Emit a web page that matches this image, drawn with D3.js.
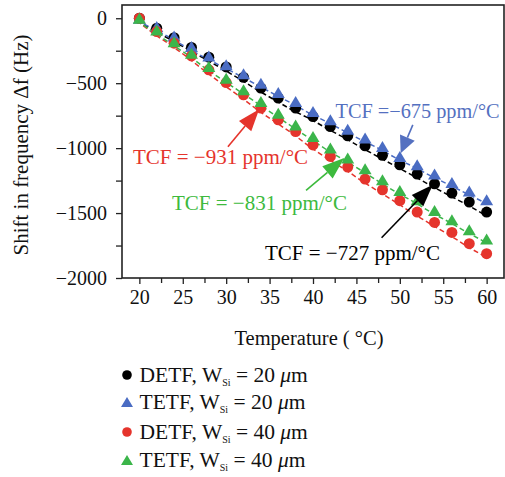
<!DOCTYPE html>
<html>
<head>
<meta charset="utf-8">
<script src="https://cdn.jsdelivr.net/npm/d3@7/dist/d3.min.js"></script>
<style>
  html, body { margin: 0; padding: 0; background: #fff; }
  svg { display: block; font-family: "Liberation Serif", "Times New Roman", serif; }
</style>
</head>
<body>
<svg id="chart" width="505" height="477"></svg>
<script>
// ---------------- data ----------------
const temps = [20,22,24,26,28,30,32,34,36,38,40,42,44,46,48,50,52,54,56,58,60];
const detf20 = [0,-77,-150,-225,-300,-375,-455,-538,-615,-692,-757,-834,-905,-982,-1055,-1128,-1200,-1275,-1346,-1415,-1492];
const tetf20 = [0,-64,-136,-218,-290,-359,-428,-500,-572,-641,-718,-782,-854,-923,-988,-1064,-1128,-1200,-1264,-1331,-1398];
const detf40 = [0,-103,-192,-290,-397,-495,-590,-692,-782,-872,-975,-1064,-1146,-1238,-1321,-1405,-1492,-1572,-1649,-1736,-1813];
const tetf40 = [0,-90,-180,-269,-372,-462,-551,-641,-731,-821,-910,-1000,-1077,-1159,-1244,-1326,-1398,-1480,-1551,-1628,-1700];

const seriesNames = ["DETF", "TETF", "DETF", "TETF"];
const seriesWidths = ["20", "20", "40", "40"];
const seriesShapes = ["circle", "triangle", "circle", "triangle"];
const seriesColors = ["#000000", "#4a6cc3", "#e5342c", "#3bb54a"];
const seriesValues = [detf20, tetf20, detf40, tetf40];

const xTicks = [20,25,30,35,40,45,50,55,60];
const xMinorTicks = [22.5,27.5,32.5,37.5,42.5,47.5,52.5,57.5];
const yTicks = [0,-500,-1000,-1500,-2000];
const yMinorTicks = [-250,-750,-1250,-1750];

// annotations: text, colour, text anchor point [T, Hz], arrow tail [T, Hz], arrow tip [T, Hz]
const annTexts = ["TCF = \u2212931 ppm/\u00b0C", "TCF = \u2212831 ppm/\u00b0C", "TCF = \u2212727 ppm/\u00b0C", "TCF =\u2212675 ppm/\u00b0C"];
const annColors = ["#e5342c", "#3dba3d", "#000000", "#5470c0"];
const annTextPos = [[19.27,-1122],[23.76,-1476],[34.47,-1861],[42.6,-768]];
const annTail = [[30.2,-990],[39.2,-1326],[47.9,-1690],[51.5,-821]];
const annTip = [[33.8,-700],[43.6,-1077],[53.8,-1282],[50.1,-1040]];

// ---------------- layout ----------------
const svg = d3.select("#chart");
const L = 122, T = 5, R = 504, B = 278;
const x = d3.scaleLinear().domain([18, 62]).range([L, R]);
const y = d3.scaleLinear().domain([-2000, 102]).range([B, T]);
const FS = 20;

// axes
const xAxis = d3.axisBottom(x).tickValues(xTicks).tickSize(6).tickPadding(6).tickFormat(d3.format("d"));
const xMinor = d3.axisBottom(x).tickValues(xMinorTicks).tickSize(5).tickFormat("");
const yAxis = d3.axisLeft(y).tickValues(yTicks).tickSize(6).tickPadding(9)
  .tickFormat(d => d < 0 ? "\u2212" + Math.abs(d) : String(d));
const yMinor = d3.axisLeft(y).tickValues(yMinorTicks).tickSize(6).tickFormat("");

function styleAxis(g) {
  g.select(".domain").remove();
  g.selectAll(".tick line").attr("stroke", "#222").attr("stroke-width", 1.3);
  g.selectAll(".tick text").attr("font-family", "Liberation Serif").attr("font-size", FS).attr("fill", "#111");
}
svg.append("g").attr("transform", `translate(0,${B})`).call(xAxis).call(styleAxis);
svg.append("g").attr("transform", `translate(0,${B})`).call(xMinor).call(styleAxis);
svg.append("g").attr("transform", `translate(${L},0)`).call(yAxis).call(styleAxis);
svg.append("g").attr("transform", `translate(${L},0)`).call(yMinor).call(styleAxis);

// frame
svg.append("rect").attr("x", L).attr("y", T).attr("width", R - L).attr("height", B - T)
  .attr("fill", "none").attr("stroke", "#222").attr("stroke-width", 1.6);

// axis titles
svg.append("text").attr("x", 309).attr("y", 345).attr("text-anchor", "middle")
  .attr("font-size", FS + 0.5).attr("fill", "#111").text("Temperature ( \u00b0C)");
svg.append("text").attr("transform", "translate(27.5,145) rotate(-90)").attr("text-anchor", "middle")
  .attr("font-size", FS + 1).attr("fill", "#111").text("Shift in frequency \u0394f (Hz)");

// dashed trend lines (drawn under markers)
const line = d3.line().x((d, i) => x(temps[i])).y(d => y(d));
seriesValues.forEach((vals, k) => {
  svg.append("path").datum(vals).attr("d", line)
    .attr("transform", "translate(-2.5,2.5)")
    .attr("fill", "none").attr("stroke", seriesColors[k]).attr("stroke-width", 1.5)
    .attr("stroke-dasharray", "5,3");
});

// markers
function triPath(w, h) {
  return `M0,${-h/2}L${w/2},${h/2}L${-w/2},${h/2}Z`;
}
seriesValues.forEach((vals, k) => {
  const g = svg.append("g");
  if (seriesShapes[k] === "circle") {
    g.selectAll("circle").data(vals).join("circle")
      .attr("cx", (d, i) => x(temps[i])).attr("cy", d => y(d)).attr("r", 5.5)
      .attr("fill", seriesColors[k]);
  } else {
    g.selectAll("path").data(vals).join("path")
      .attr("d", triPath(13, 11))
      .attr("transform", (d, i) => `translate(${x(temps[i])},${y(d)})`)
      .attr("fill", seriesColors[k]);
  }
});

// annotation arrows
function arrow(p0, p1, color) {
  const x0 = x(p0[0]), y0 = y(p0[1]), x1 = x(p1[0]), y1 = y(p1[1]);
  const dx = x1 - x0, dy = y1 - y0, len = Math.hypot(dx, dy);
  const ux = dx / len, uy = dy / len;
  const hl = Math.min(22, len * 0.55), hw = 8;
  const bx = x1 - ux * hl, by = y1 - uy * hl;
  svg.append("line").attr("x1", x0).attr("y1", y0).attr("x2", bx).attr("y2", by)
    .attr("stroke", color).attr("stroke-width", 1.6);
  svg.append("path")
    .attr("d", `M${x1},${y1}L${bx - uy * hw},${by + ux * hw}L${bx + uy * hw},${by - ux * hw}Z`)
    .attr("fill", color);
}
const annSizes = [21, 21, 21, 20.3];
annTexts.forEach((t, k) => {
  arrow(annTail[k], annTip[k], annColors[k]);
  svg.append("text").attr("x", x(annTextPos[k][0])).attr("y", y(annTextPos[k][1]))
    .attr("font-size", annSizes[k]).attr("fill", annColors[k]).text(t);
});

// legend
const legY = [375, 402, 432, 460];
seriesNames.forEach((nm, k) => {
  const cy = legY[k];
  if (seriesShapes[k] === "circle") {
    svg.append("circle").attr("cx", 127).attr("cy", cy).attr("r", 4.8).attr("fill", seriesColors[k]);
  } else {
    svg.append("path").attr("d", triPath(12, 10)).attr("transform", `translate(127,${cy})`).attr("fill", seriesColors[k]);
  }
  const tx = svg.append("text").attr("x", 139.5).attr("y", cy + 6.5).attr("font-size", 21.5).attr("fill", "#111");
  tx.append("tspan").text(nm + ", W");
  tx.append("tspan").attr("font-size", 10).attr("dy", 4).text("Si");
  tx.append("tspan").attr("dy", -4).text(" = " + seriesWidths[k] + " ");
  tx.append("tspan").attr("font-style", "italic").text("\u03bc");
  tx.append("tspan").text("m");
});
</script>
</body>
</html>
